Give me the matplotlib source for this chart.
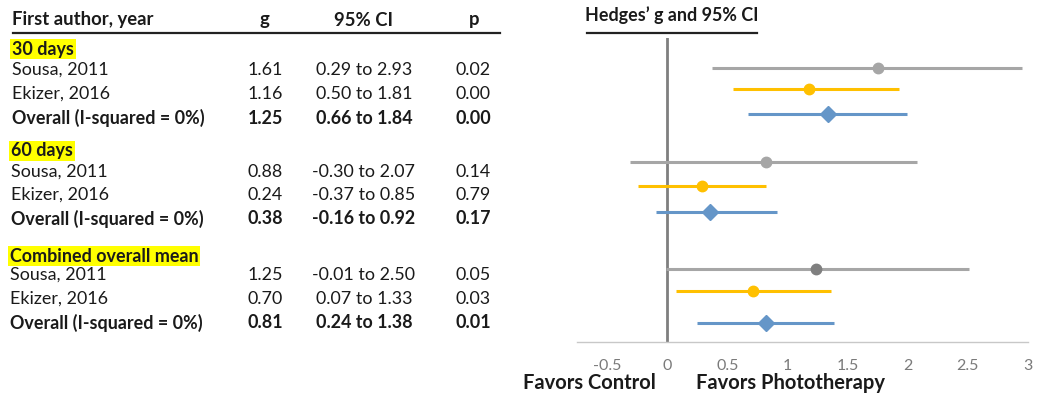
import matplotlib
matplotlib.use("Agg")
import matplotlib.pyplot as plt

plt.rcParams['font.family'] = ['Lato', 'DejaVu Sans']

# ---------------- data ----------------
groups = ["30 days", "60 days", "Combined overall mean"]
studies = ["Sousa, 2011", "Ekizer, 2016", "Overall (I-squared = 0%)"]
g_text = [["1.61", "1.16", "1.25"], ["0.88", "0.24", "0.38"], ["1.25", "0.70", "0.81"]]
ci_text = [["0.29 to 2.93", "0.50 to 1.81", "0.66 to 1.84"],
           ["-0.30 to 2.07", "-0.37 to 0.85", "-0.16 to 0.92"],
           ["-0.01 to 2.50", "0.07 to 1.33", "0.24 to 1.38"]]
p_text = [["0.02", "0.00", "0.00"], ["0.14", "0.79", "0.17"], ["0.05", "0.03", "0.01"]]

# plotted values (as drawn in the chart)
est = [1.75, 1.18, 1.34, 0.82, 0.29, 0.36, 1.24, 0.71, 0.82]
lo = [0.37, 0.55, 0.67, -0.31, -0.24, -0.09, -0.01, 0.07, 0.25]
hi = [2.95, 1.93, 1.99, 2.08, 0.82, 0.91, 2.51, 1.36, 1.39]
kinds = ["Sousa", "Ekizer", "Overall"] * 3
xticks = [-0.5, 0, 0.5, 1, 1.5, 2, 2.5, 3]
xtick_labels = ["-0.5", "0", "0.5", "1", "1.5", "2", "2.5", "3"]

# ---------------- layout ----------------
W, H = 1037, 396
fig = plt.figure(figsize=(W / 100, H / 100), dpi=100)

def fx(x):
    return x / W

def fy(y):
    return 1 - y / H

FS = 12.9
FSH = 13.3
DARK = "#1a1a1a"

# header
fig.text(fx(12), fy(20), "First author, year", fontsize=FSH, fontweight="bold", va="center", ha="left", color=DARK)
fig.text(fx(264), fy(20), "g", fontsize=FSH, fontweight="bold", va="center", ha="center", color=DARK)
fig.text(fx(364), fy(20), "95% CI", fontsize=FSH, fontweight="bold", va="center", ha="center", color=DARK)
fig.text(fx(474), fy(20), "p", fontsize=FSH, fontweight="bold", va="center", ha="center", color=DARK)
fig.add_artist(plt.Line2D([fx(13), fx(500)], [fy(33), fy(33)], color="#222222", lw=1.6))

group_y = [49, 151, 256]
row_y = [[70, 94, 118], [172, 195, 219], [275, 299, 323]]
row_x = [12, 11, 10]

for gi, gname in enumerate(groups):
    fig.text(fx(row_x[gi]), fy(group_y[gi]), gname, fontsize=FS, fontweight="bold", va="center", ha="left",
             color=DARK, bbox=dict(boxstyle="square,pad=0.1", fc="#ffff00", ec="none"))
    for si, sname in enumerate(studies):
        bold = "bold" if si == 2 else "normal"
        y = fy(row_y[gi][si])
        fig.text(fx(row_x[gi]), y, sname, fontsize=FS, fontweight=bold, va="center", ha="left", color=DARK)
        fig.text(fx(265), y, g_text[gi][si], fontsize=FS, fontweight=bold, va="center", ha="center", color=DARK)
        fig.text(fx(364), y, ci_text[gi][si], fontsize=FS, fontweight=bold, va="center", ha="center", color=DARK)
        fig.text(fx(473), y, p_text[gi][si], fontsize=FS, fontweight=bold, va="center", ha="center", color=DARK)

# right title
fig.text(fx(672), fy(15), "Hedges\u2019 g and 95% CI", fontsize=FS, fontweight="bold", va="center", ha="center", color=DARK)
fig.add_artist(plt.Line2D([fx(587), fx(757)], [fy(33), fy(33)], color="#222222", lw=1.6))

# forest axes
ax_left, ax_right, ax_top, ax_bot = 577, 1028, 38, 342
ax = fig.add_axes([fx(ax_left), fy(ax_bot), (ax_right - ax_left) / W, (ax_bot - ax_top) / H])
ax.set_xlim(-0.75, 3.0)
ax.set_ylim(ax_bot, ax_top)
for s in ["top", "right", "left"]:
    ax.spines[s].set_visible(False)
ax.spines["bottom"].set_color("#c8c8c8")
ax.spines["bottom"].set_linewidth(1.0)
ax.set_yticks([])
ax.set_xticks(xticks)
ax.set_xticklabels(xtick_labels)
ax.tick_params(axis="x", length=0, pad=12, labelsize=11.5, labelcolor="#7a7a7a")

ax.axvline(0, color="#7f7f7f", lw=2.0, zorder=1)

mark_y = [68, 89, 114, 162, 186, 212, 269, 291, 323]
style = {
    "Sousa": dict(color="#a6a6a6", marker="o", ms=7.5),
    "Ekizer": dict(color="#ffc000", marker="o", ms=7.5),
    "Overall": dict(color="#6596c8", marker="D", ms=8.5),
}
for i, k in enumerate(kinds):
    st = style[k]
    c = st["color"]
    mc = c
    if i == 6:
        mc = "#7f7f7f"
    ax.plot([lo[i], hi[i]], [mark_y[i], mark_y[i]], color=c, lw=2.2, solid_capstyle="butt", zorder=2)
    ax.plot([est[i]], [mark_y[i]], marker=st["marker"], ms=st["ms"], color=mc, mec=mc, zorder=3, ls="none")

FSB = 14.5
fig.text(fx(589), fy(383), "Favors Control", fontsize=FSB, fontweight="bold", va="center", ha="center", color=DARK)
fig.text(fx(790), fy(383), "Favors Phototherapy", fontsize=FSB, fontweight="bold", va="center", ha="center", color=DARK)

fig.savefig("out.png", dpi=100, facecolor="white")
